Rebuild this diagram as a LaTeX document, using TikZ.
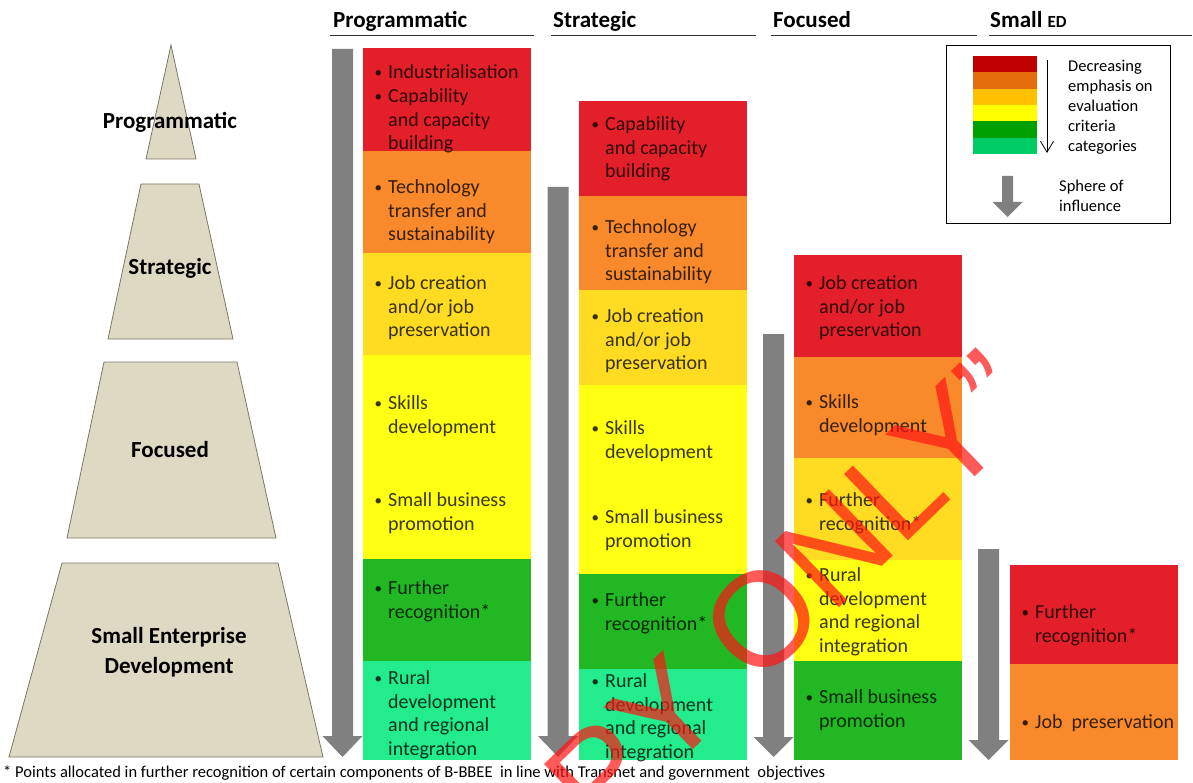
\documentclass[tikz,border=0pt]{standalone}
\usepackage{fontspec}
\setmainfont{Carlito}
\newfontfamily\wmfont{Liberation Sans}
\usetikzlibrary{arrows.meta}
\definecolor{cRed}{HTML}{E3202A}
\definecolor{cOrange}{HTML}{F98A2B}
\definecolor{cGold}{HTML}{FFDC22}
\definecolor{cYellow}{HTML}{FFFF14}
\definecolor{cGreen}{HTML}{22B824}
\definecolor{cLight}{HTML}{22EC8C}
\definecolor{lA}{HTML}{C00000}
\definecolor{lB}{HTML}{E46C0A}
\definecolor{lC}{HTML}{FFC000}
\definecolor{lD}{HTML}{FFFF00}
\definecolor{lE}{HTML}{00A000}
\definecolor{lF}{HTML}{00CC66}
\definecolor{pyrFill}{HTML}{DDD9C3}
\definecolor{pyrLine}{HTML}{7A7866}
\definecolor{arrGray}{HTML}{808080}
\definecolor{wmRed}{RGB}{255,20,20}
\tikzset{
  band/.style={draw=none, inner sep=0pt, outer sep=0pt, anchor=north west, minimum width=168pt},
  item/.style={anchor=north west, yshift=15pt, inner sep=0pt, align=left,
    font=\fontsize{20}{23.6}\selectfont, text=black, text opacity=0.78},
  pyr/.style={fill=pyrFill, draw=pyrLine, line width=0.8pt},
  plabel/.style={font=\bfseries\fontsize{23}{30}\selectfont, anchor=base, inner sep=0pt},
  hdr/.style={font=\bfseries\fontsize{23}{28}\selectfont, anchor=base west, inner sep=0pt},
  hline/.style={line width=1pt, black!80},
  lband/.style={draw=none, inner sep=0pt, outer sep=0pt, anchor=north west, minimum width=64pt, minimum height=16.34pt},
  ltext/.style={anchor=north west, yshift=14pt, inner sep=0pt, align=left, font=\fontsize{16.5}{20}\selectfont},
}
\newcommand\garrow[5]{% cx, top, headtop, tip, halfwidth
  \fill[arrGray] (#1-#5,#2) -- (#1+#5,#2) -- (#1+#5,#3) -- (#1+#5+9.5,#3) -- (#1,#4)
    -- (#1-#5-9.5,#3) -- (#1-#5,#3) -- cycle;}
\newcommand\bul{\strut\llap{\raisebox{1.5pt}{\fontsize{15}{15}\selectfont\textbullet}\hspace{6pt}}}
\begin{document}
\begin{tikzpicture}[x=1pt,y=-1pt]
\useasboundingbox[fill=white] (0,0) rectangle (1193,783);

% headers
\node[hdr] (h1) at (333,28) {Programmatic};
\node[hdr] (h2) at (553,28) {Strategic};
\node[hdr] (h3) at (773,28) {Focused};
\node[hdr] (h4) at (990,28) {Small {\fontsize{17}{20}\selectfont ED}};
\draw[hline] (330,36) -- (534,36);
\draw[hline] (551,36) -- (756,36);
\draw[hline] (771,36) -- (977,36);
\draw[hline] (989,36) -- (1192,36);

% pyramid
\draw[pyr] (171,45) -- (196,159) -- (146,159) -- cycle;
\draw[pyr] (141,184) -- (199,184) -- (233,339) -- (108,339) -- cycle;
\draw[pyr] (104,362) -- (237,362) -- (276,538) -- (67,538) -- cycle;
\draw[pyr] (62,563) -- (278,563) -- (323,757) -- (9,757) -- cycle;
\node[plabel] (l1) at (170,129) {Programmatic};
\node[plabel] (l2) at (170,275) {Strategic};
\node[plabel] (l3) at (170,457) {Focused};
\node[plabel, align=center] (l4) at (169,673) {Small Enterprise\\Development};

% gray arrows
\garrow{342.5}{49}{736}{757}{10.5}
\garrow{558}{187}{736}{757}{10.5}
\garrow{773.5}{334}{737}{757}{10.5}
\garrow{988.5}{549}{740}{760}{10.5}

% column 1
\node[band, fill=cRed,    minimum height=103pt] (a1) at (363,48) {};
\node[band, fill=cOrange, minimum height=102pt] (a2) at (363,151) {};
\node[band, fill=cGold,   minimum height=102pt] (a3) at (363,253) {};
\node[band, fill=cYellow, minimum height=204pt] (a4) at (363,355) {};
\node[band, fill=cGreen,  minimum height=102pt] (a5) at (363,559) {};
\node[band, fill=cLight,  minimum height=99pt]  (a6) at (363,661) {};
\node[item] (a1t) at (388,77) {\bul Industrialisation};
\node[item] (a1u) at (388,101) {\bul Capability\\and capacity\\building};
\node[item] (a2t) at (388,192) {\bul Technology\\transfer and\\sustainability};
\node[item] (a3t) at (388,288) {\bul Job creation\\and/or job\\preservation};
\node[item] (a4t) at (388,408) {\bul Skills\\development};
\node[item] (a4u) at (388,505) {\bul Small business\\promotion};
\node[item] (a5t) at (388,593) {\bul Further\\recognition*};
\node[item] (a6t) at (388,683) {\bul Rural\\development\\and regional\\integration};

% column 2
\node[band, fill=cRed,    minimum height=95pt]  (b1) at (579,101) {};
\node[band, fill=cOrange, minimum height=94pt]  (b2) at (579,196) {};
\node[band, fill=cGold,   minimum height=95pt]  (b3) at (579,290) {};
\node[band, fill=cYellow, minimum height=189pt] (b4) at (579,385) {};
\node[band, fill=cGreen,  minimum height=95pt]  (b5) at (579,574) {};
\node[band, fill=cLight,  minimum height=91pt]  (b6) at (579,669) {};
\node[item] (b1t) at (605,129) {\bul Capability\\and capacity\\building};
\node[item] (b2t) at (605,232) {\bul Technology\\transfer and\\sustainability};
\node[item] (b3t) at (605,321) {\bul Job creation\\and/or job\\preservation};
\node[item] (b4t) at (605,433) {\bul Skills\\development};
\node[item] (b4u) at (605,522) {\bul Small business\\promotion};
\node[item] (b5t) at (605,605) {\bul Further\\recognition*};
\node[item] (b6t) at (605,686) {\bul Rural\\development\\and regional\\integration};

% column 3
\node[band, fill=cRed,    minimum height=102pt] (c1) at (794,255) {};
\node[band, fill=cOrange, minimum height=101pt] (c2) at (794,357) {};
\node[band, fill=cGold,   minimum height=102pt] (c3) at (794,458) {};
\node[band, fill=cYellow, minimum height=101pt] (c4) at (794,560) {};
\node[band, fill=cGreen,  minimum height=99pt]  (c5) at (794,661) {};
\node[item] (c1t) at (819,288) {\bul Job creation\\and/or job\\preservation};
\node[item] (c2t) at (819,407) {\bul Skills\\development};
\node[item] (c3t) at (819,505) {\bul Further\\recognition*};
\node[item] (c4t) at (819,580) {\bul Rural\\development\\and regional\\integration};
\node[item] (c5t) at (819,702) {\bul Small business\\promotion};

% column 4
\node[band, fill=cRed,    minimum height=99pt] (d1) at (1010,565) {};
\node[band, fill=cOrange, minimum height=96pt] (d2) at (1010,664) {};
\node[item] (d1t) at (1035,617) {\bul Further\\recognition*};
\node[item] (d2t) at (1035,727) {\bul Job~~preservation};

% legend
\node[draw=black, line width=0.8pt, inner sep=0pt, anchor=north west, minimum width=224pt, minimum height=178pt] (legend) at (946,45) {};
\node[lband, fill=lA] (k1) at (973,56) {};
\node[lband, fill=lB] (k2) at (973,72.33) {};
\node[lband, fill=lC] (k3) at (973,88.67) {};
\node[lband, fill=lD] (k4) at (973,105) {};
\node[lband, fill=lE] (k5) at (973,121.33) {};
\node[lband, fill=lF] (k6) at (973,137.67) {};
\coordinate (ka) at (1047,60);
\coordinate (kb) at (1047,153);
\draw[line width=0.8pt, -{Straight Barb[length=11pt, width=13pt]}] (ka) -- (kb);
\node[ltext] (kt) at (1068,71.5) {\strut Decreasing\\emphasis on\\evaluation\\criteria\\categories};
\garrow{1007.5}{176}{202}{217}{5.5}
\node[ltext] (ks) at (1059,191.5) {\strut Sphere of\\influence};

% footnote
\node[anchor=base west, inner sep=0pt, font=\fontsize{16.5}{18}\selectfont] (fn) at (3,777)
  {* Points allocated in further recognition of certain components of B-BBEE~ in line with Transnet and government~ objectives};

% watermark
\node[anchor=base west, rotate=44, inner sep=0pt, text=wmRed, text opacity=0.7,
  font=\wmfont\fontsize{134}{134}\selectfont] (wm) at (456,978) {COPY ONLY”};
\end{tikzpicture}
\end{document}
